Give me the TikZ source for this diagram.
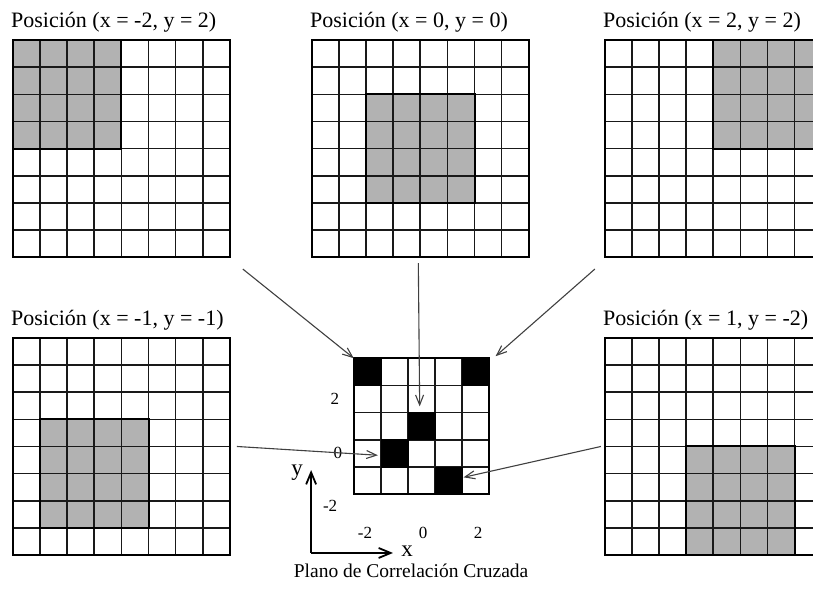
\documentclass[tikz,border=0pt]{standalone}
\usepackage{fontspec}
\setmainfont{Liberation Serif}
\usepackage{tikz}
\usetikzlibrary{arrows.meta, positioning, calc}

\begin{document}
\begin{tikzpicture}[
    x=27.1pt, y=27.1pt,
    panel/.style={rectangle, draw=black, line width=2pt, inner sep=0pt, minimum size=#1},
    panel/.default={216.8pt},
    gridline/.style={draw=black!90, line width=1.7pt},
    shade/.style={fill=black!30},
    blockline/.style={draw=black, line width=2pt},
    hit/.style={rectangle, fill=black, draw=black, inner sep=0pt, minimum size=27.1pt},
    lbl/.style={font=\fontsize{22}{26}\selectfont, inner sep=0pt},
    numlbl/.style={font=\fontsize{17}{20}\selectfont, inner sep=0pt},
    conn/.style={-{Straight Barb[length=10pt, width=8pt]}, line width=1.1pt, black!75},
    axis/.style={-{Straight Barb[length=12pt, width=10pt]}, line width=1.8pt, black}
]
\useasboundingbox (0,0) rectangle (30,21.845);

% === PANELES DE POSICIÓN ===
\foreach \nm/\ox/\oy/\sx/\sy/\txt in {
    tl/0.48/12.36/0/4/{Posición (x = -2, y = 2)},
    tm/11.51/12.36/2/2/{Posición (x = 0, y = 0)},
    tr/22.32/12.36/4/4/{Posición (x = 2, y = 2)},
    bl/0.48/1.37/1/1/{Posición (x = -1, y = -1)},
    br/22.32/1.37/3/0/{Posición (x = 1, y = -2)}}{
  \begin{scope}[shift={(\ox,\oy)}]
    \fill[shade] (\sx,\sy) rectangle ++(4,4);
    \foreach \k in {1,...,7} {
      \draw[gridline] (\k,0) -- (\k,8);
      \draw[gridline] (0,\k) -- (8,\k);
    }
    \draw[blockline] (\sx,\sy) rectangle ++(4,4);
    \node[panel] (\nm) at (4,4) {};
    \node[lbl, anchor=base west] (\nm-lbl) at ([xshift=-1pt, yshift=12pt] \nm.north west) {\txt};
  \end{scope}
}

% === PLANO DE CORRELACIÓN ===
\begin{scope}[shift={(13.06,3.62)}]
  \foreach \k in {1,...,4} {
    \draw[gridline] (\k,0) -- (\k,5);
    \draw[gridline] (0,\k) -- (5,\k);
  }
  \foreach \r/\c in {0/0, 0/4, 2/2, 3/1, 4/3}
    \node[hit] (hit\r\c) at (\c+0.5, 4.5-\r) {};
  \node[panel=135.5pt] (plane) at (2.5,2.5) {};
\end{scope}

\node[numlbl] (ny2) at (12.36,7.12) {2};
\node[numlbl] (ny0) at (12.47,5.15) {0};
\node[numlbl] (nym2) at (12.18,3.17) {-2};
\node[numlbl] (nxm2) at (13.47,2.18) {-2};
\node[numlbl] (nx0) at (15.61,2.18) {0};
\node[numlbl] (nx2) at (17.64,2.18) {2};

% === EJES ===
\coordinate (orig) at (11.48,1.44);
\coordinate (ytip) at (11.48,4.50);
\coordinate (xtip) at (14.50,1.44);
\draw[axis] (orig) -- (ytip);
\draw[axis] (orig) -- (xtip);
\node[lbl, font=\fontsize{23}{26}\selectfont] (ylab) at (10.96,4.40) {y};
\node[lbl, font=\fontsize{23}{26}\selectfont] (xlab) at (15.02,1.52) {x};

\node[lbl, font=\fontsize{19.5}{23}\selectfont, anchor=base] (caption) at (15.17,0.52) {Plano de Correlación Cruzada};

% === CONEXIONES ===
\draw[conn] ([xshift=12pt, yshift=-11pt] tl.south east) -- (hit00.north west);
\draw[conn] ([xshift=-2pt, yshift=-5pt] tm.south) -- ([xshift=-2pt, yshift=6pt] hit22.north);
\draw[conn] ([xshift=-9pt, yshift=-11pt] tr.south west) -- ([xshift=6pt, yshift=2pt] hit04.north east);
\draw[conn] ([xshift=6pt] bl.east) -- ([xshift=-3pt, yshift=-2pt] hit31.west);
\draw[conn] ([xshift=-3pt] br.west) -- ([xshift=1pt, yshift=3pt] hit43.east);

\end{tikzpicture}
\end{document}
